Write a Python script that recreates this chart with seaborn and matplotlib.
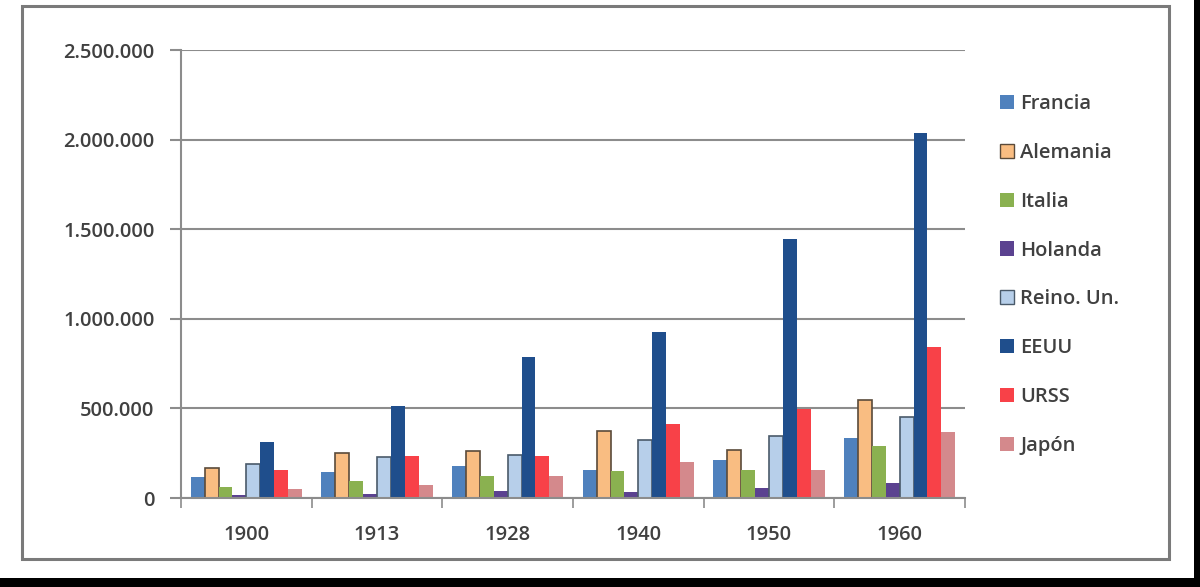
import matplotlib
matplotlib.use('Agg')
import matplotlib.pyplot as plt
from matplotlib.patches import Rectangle
from matplotlib.ticker import FuncFormatter
import numpy as np
import pandas as pd
import seaborn as sns

# datos
anios = ['1900', '1913', '1928', '1940', '1950', '1960']
paises = ['Francia', 'Alemania', 'Italia', 'Holanda', 'Reino. Un.', 'EEUU', 'URSS', 'Japón']
francia = [117000, 145000, 179000, 158000, 214000, 334000]
alemania = [168000, 252000, 263000, 376000, 270000, 548000]
italia = [61000, 95000, 123000, 149000, 158000, 288000]
holanda = [15000, 22000, 39000, 33000, 56000, 84000]
reino = [190000, 229000, 240000, 325000, 344000, 450000]
eeuu = [313000, 515000, 789000, 924000, 1446000, 2038000]
urss = [157000, 235000, 235000, 412000, 498000, 842000]
japon = [50000, 73000, 123000, 201000, 158000, 368000]

colores = ['#4F81BD', '#F9BD82', '#8AB150', '#5B4290', '#B7CFEA', '#1F4E8C', '#F84148', '#D4898C']

series = [francia, alemania, italia, holanda, reino, eeuu, urss, japon]
rows = []
for p, vals in zip(paises, series):
    for a, v in zip(anios, vals):
        rows.append({'anio': a, 'pais': p, 'valor': v})
df = pd.DataFrame(rows)

sns.set_style('white')
plt.rcParams['font.family'] = ['Open Sans', 'DejaVu Sans']
plt.rcParams['font.weight'] = 'semibold'

fig = plt.figure(figsize=(12, 5.87), dpi=100)
ax = fig.add_axes([181 / 1200, 1 - 498 / 587, (965 - 181) / 1200, (498 - 50) / 587])

sns.barplot(data=df, x='anio', y='valor', hue='pais', hue_order=paises,
            palette=colores, width=0.85, gap=0, saturation=1, ax=ax,
            legend=True, edgecolor='none', linewidth=0)

# bordes oscuros en Alemania y Reino Unido
for i, cont in enumerate(ax.containers):
    if paises[i] in ('Alemania', 'Reino. Un.'):
        for b in cont:
            b.set_edgecolor('#5a4a3a' if paises[i] == 'Alemania' else '#4a5a6a')
            b.set_linewidth(1.2)

ax.set_ylim(0, 2500000)
ax.set_xlim(-0.5, 5.5)
ax.set_yticks(np.arange(0, 2500001, 500000))
ax.yaxis.set_major_formatter(FuncFormatter(lambda v, p: '0' if v == 0 else f'{int(v):,}'.replace(',', '.')))
ax.grid(axis='y', color='#8c8c8c', linewidth=1.5)
ax.set_axisbelow(True)
ax.set_xlabel('')
ax.set_ylabel('')

for s in ['top', 'right']:
    ax.spines[s].set_visible(False)
for s in ['left', 'bottom']:
    ax.spines[s].set_color('#8c8c8c')
    ax.spines[s].set_linewidth(1.5)

ax.tick_params(axis='y', which='major', left=True, length=8, width=1.5, color='#8c8c8c',
               labelsize=14.5, labelcolor='#404040', pad=11)
ax.tick_params(axis='x', which='major', bottom=False, labelsize=14.5, labelcolor='#404040', pad=16)
ax.set_xticks(np.arange(-0.5, 6.0, 1.0), minor=True)
ax.tick_params(axis='x', which='minor', bottom=True, length=7, width=1.2, color='#8c8c8c')

# leyenda a la derecha
handles, labels = ax.get_legend_handles_labels()
ax.legend_.remove()
leg = fig.legend(handles, labels, loc='upper left', bbox_to_anchor=(982 / 1200, 1 - 76 / 587),
                 frameon=False, fontsize=14.5, labelspacing=1.43, handlelength=0.7,
                 handleheight=0.7, handletextpad=0.3, labelcolor='#404040')
for h, p in zip(leg.legend_handles, paises):
    if p == 'Alemania':
        h.set_edgecolor('#5a4a3a'); h.set_linewidth(1.0)
    elif p == 'Reino. Un.':
        h.set_edgecolor('#4a5a6a'); h.set_linewidth(1.0)

# marco del grafico y bordes negros
fig.patches.append(Rectangle((22 / 1200, 1 - 559 / 587), (1169 - 22) / 1200, (559 - 6) / 587,
                             transform=fig.transFigure, fill=False, edgecolor='#7a7a7a', linewidth=2.2))
fig.patches.append(Rectangle((1194 / 1200, 0), 6 / 1200, 1, transform=fig.transFigure,
                             facecolor='black', edgecolor='none'))
fig.patches.append(Rectangle((0, 0), 1, 1 - 578 / 587, transform=fig.transFigure,
                             facecolor='black', edgecolor='none'))

fig.savefig('out.png', dpi=100)
